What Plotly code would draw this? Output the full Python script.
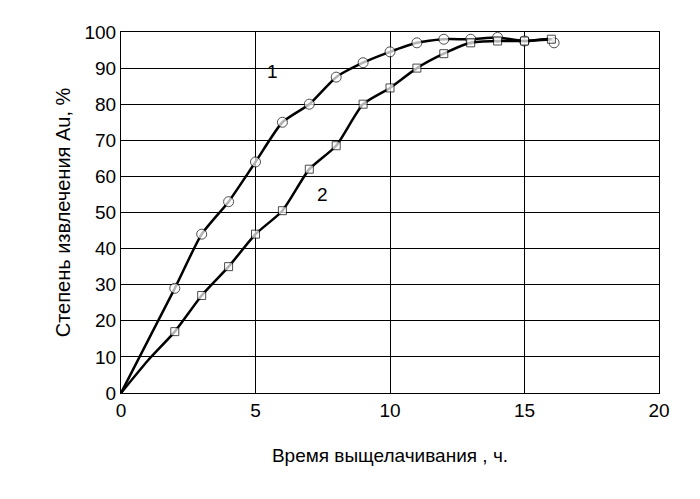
import plotly.graph_objects as go

# кривая 1
t1 = [0, 2, 3, 4, 5, 6, 7, 8, 9, 10, 11, 12, 13, 14, 15, 16, 16.1]
au1 = [0, 29, 44, 53, 64, 75, 80, 87.5, 91.5, 94.5, 97, 98, 98, 98.5, 97.5, 98, 97]
# кривая 2
t2 = [0, 1, 2, 3, 4, 5, 6, 7, 8, 9, 10, 11, 12, 13, 14, 15, 16]
au2 = [0, 9, 17, 27, 35, 44, 50.5, 62, 68.5, 80, 84.5, 90, 94, 97, 97.5, 97.5, 98]

fig = go.Figure()
fig.add_trace(go.Scatter(x=t1, y=au1, mode='lines+markers',
                         line=dict(color='black', width=2.5, shape='spline', smoothing=0.6),
                         marker=dict(symbol='circle', size=[0] + [10] * 14 + [0, 10],
                                     color='white', line=dict(color='black', width=1))))
fig.add_trace(go.Scatter(x=t2, y=au2, mode='lines+markers',
                         line=dict(color='black', width=2.5, shape='spline', smoothing=0.6),
                         marker=dict(symbol='square', size=[0, 0] + [8] * 15,
                                     color='white', line=dict(color='black', width=1))))

fig.add_annotation(x=5.65, y=89, text='1', showarrow=False, font=dict(size=19, color='black'))
fig.add_annotation(x=7.5, y=55, text='2', showarrow=False, font=dict(size=19, color='black'))

fig.update_xaxes(range=[0, 20], dtick=5, showgrid=True, gridcolor='black', gridwidth=1,
                 showline=True, linecolor='black', mirror=True, zeroline=False,
                 tickfont=dict(size=19, color='black'),
                 title=dict(text='Время выщелачивания , ч.', font=dict(size=19, color='black'), standoff=28))
fig.update_yaxes(range=[0, 100], dtick=10, showgrid=True, gridcolor='black', gridwidth=1,
                 showline=True, linecolor='black', mirror=True, zeroline=False,
                 tickfont=dict(size=19, color='black'),
                 title=dict(text='Степень извлечения Au, %', font=dict(size=20, color='black'), standoff=8))
fig.update_layout(width=700, height=499, showlegend=False,
                  plot_bgcolor='white', paper_bgcolor='white',
                  font=dict(family='Liberation Sans, Arial'),
                  margin=dict(l=113, r=49, t=24, b=114))
fig.write_html("out.html")
